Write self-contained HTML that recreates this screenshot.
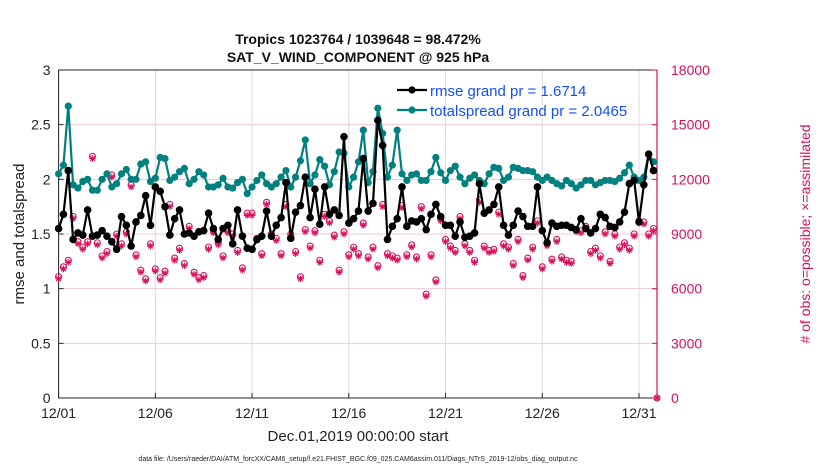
<!DOCTYPE html>
<html><head><meta charset="utf-8"><style>
body{margin:0;background:#fff}
svg{font-family:"Liberation Sans",sans-serif}
</style></head><body>
<svg id="c" width="830" height="470" viewBox="0 0 830 470"></svg>
<script>
const rmse=[1.55,1.68,2.08,1.45,1.51,1.49,1.72,1.48,1.49,1.53,1.48,1.43,1.36,1.66,1.58,1.39,1.61,1.67,1.85,1.58,1.93,1.89,1.75,1.49,1.64,1.72,1.5,1.51,1.48,1.52,1.53,1.69,1.55,1.45,1.55,1.58,1.41,1.72,1.48,1.37,
1.36,1.45,1.48,1.71,1.48,1.58,1.65,1.97,1.46,1.70,1.76,2.02,1.65,1.91,1.59,1.93,1.68,1.72,1.67,2.39,1.60,1.64,1.71,2.19,1.71,1.78,2.54,2.31,1.45,1.57,1.64,1.93,1.57,1.62,1.61,1.64,1.54,1.68,1.77,1.66,1.58,1.58,
1.48,1.61,1.47,1.48,1.51,1.96,1.69,1.72,1.77,1.93,1.58,1.49,1.58,1.71,1.66,1.57,1.57,1.93,1.53,1.42,1.60,1.57,1.58,1.58,1.56,1.54,1.64,1.55,1.51,1.55,1.68,1.65,1.57,1.56,1.61,1.70,1.96,1.99,1.61,1.95,2.23,2.08];
const spread=[2.05,2.13,2.67,1.95,1.92,1.98,2.0,1.9,1.9,2.0,2.05,1.93,1.96,2.05,2.09,2.0,2.0,2.14,2.16,1.98,2.01,2.2,2.19,1.99,2.02,2.07,2.1,1.96,2.0,2.07,2.04,1.93,1.93,1.95,2.01,1.93,1.92,1.97,2.0,1.87,
1.93,1.99,2.04,1.96,1.93,1.96,2.02,2.08,1.93,2.02,2.17,2.36,1.96,2.04,2.18,2.12,1.95,2.07,2.25,2.24,1.93,2.02,2.16,2.45,1.97,2.07,2.65,2.42,2.02,2.13,2.45,2.05,1.99,2.04,2.05,1.99,1.99,2.07,2.2,2.06,1.99,2.08,
2.12,2.02,1.96,2.01,2.04,1.99,1.96,2.05,2.11,2.1,1.99,2.02,2.11,2.1,2.08,2.08,2.07,2.02,1.99,2.02,1.99,1.96,1.94,1.99,1.96,1.92,1.95,1.99,1.99,1.95,1.97,1.99,1.99,1.98,2.01,2.06,2.13,2.02,1.99,2.02,2.23,2.16];
const obsLeft=[1.09,1.18,1.24,1.64,1.41,1.36,1.41,2.19,1.40,1.28,1.32,2.02,1.48,1.39,1.5,1.93,1.29,1.15,1.07,1.39,1.16,1.08,1.14,1.75,1.26,1.35,1.21,1.55,1.13,1.08,1.10,1.36,1.51,1.40,1.28,1.51,1.48,1.33,1.17,1.67,
1.67,1.44,1.30,1.77,1.48,1.44,1.30,1.75,1.48,1.32,1.09,1.52,1.37,1.51,1.24,1.66,1.60,1.47,1.15,1.50,1.29,1.36,1.30,1.58,1.27,1.36,1.19,1.75,1.30,1.28,1.26,1.74,1.29,1.38,1.27,1.73,0.93,1.29,1.06,1.62,1.43,1.37,
1.33,1.64,1.39,1.33,1.24,1.79,1.37,1.33,1.34,1.68,1.39,1.36,1.21,1.43,1.10,1.26,1.36,1.60,1.18,1.39,1.25,1.43,1.27,1.24,1.23,1.52,1.51,1.55,1.32,1.35,1.28,1.50,1.23,1.48,1.36,1.40,1.35,1.48,1.60,1.59,1.48,1.53];
const xTicks=[0,5,10,15,20,25,30];
const xTickLabels=["12/01","12/06","12/11","12/16","12/21","12/26","12/31"];
const yTicks=[0,0.5,1,1.5,2,2.5,3];
const yRTicks=[0,3000,6000,9000,12000,15000,18000];
const possible=obsLeft.map(v=>Math.round(v*6000+120));
const assimilated=obsLeft.map(v=>Math.round(v*6000));
possible.push(0);assimilated.push(0);

const L=58.6,R=657,T=70,B=398,DAYS=30.93;
const xs=d=>L+d/DAYS*(R-L);
const ys=v=>B-v/3*(B-T);
const yr=v=>B-v/18000*(B-T);
const svg=document.getElementById('c');
const NS='http://www.w3.org/2000/svg';
function mk(tag,a,parent){const e=document.createElementNS(NS,tag);for(const k in a)e.setAttribute(k,a[k]);(parent||svg).appendChild(e);return e;}
const PINK='#d6105c',TEAL='#00807f';
xTicks.forEach(t=>{const g=mk('line',{x1:xs(t),x2:xs(t),y1:T,y2:B,stroke:'#dcdcdc','stroke-width':1});
});
yTicks.forEach(t=>{const g=mk('line',{x1:L,x2:R,y1:ys(t),y2:ys(t),stroke:'#f4c8d8','stroke-width':1});
});
let a=mk('rect',{x:L,y:T,width:R-L,height:B-T,fill:'none',stroke:'#262626','stroke-width':1});

a=mk('line',{x1:R,x2:R,y1:T,y2:B,stroke:PINK,'stroke-width':1.2});

xTicks.forEach((t,i)=>{mk('line',{x1:xs(t),x2:xs(t),y1:B,y2:B-5,stroke:'#262626'});
const tx=mk('text',{x:xs(t),y:B+20,'font-size':14,'text-anchor':'middle',fill:'#222'});tx.textContent=xTickLabels[i];
});
yTicks.forEach(t=>{mk('line',{x1:L,x2:L+5,y1:ys(t),y2:ys(t),stroke:'#262626'});
const tx=mk('text',{x:L-8,y:ys(t)+5,'font-size':14,'text-anchor':'end',fill:'#222'});tx.textContent=String(t);
});
yRTicks.forEach(t=>{mk('line',{x1:R,x2:R-5,y1:yr(t),y2:yr(t),stroke:PINK});
const tx=mk('text',{x:R+14,y:yr(t)+5,'font-size':14,fill:PINK});tx.textContent=String(t);
});
const og=mk('g',{});
function star(x,y,r,p){for(let k=0;k<4;k++){const an=k*Math.PI/4;mk('line',{x1:x-r*Math.cos(an),y1:y-r*Math.sin(an),x2:x+r*Math.cos(an),y2:y+r*Math.sin(an),stroke:PINK,'stroke-width':1.1},p);}}
possible.forEach((v,i)=>{const x=i<obsLeft.length?xs(i*0.25):R;
const c=mk('circle',{cx:x,cy:yr(v),r:3,fill:'none',stroke:PINK,'stroke-width':1.1},og);

star(x,yr(assimilated[i]),3.3,og);});
function series(vals,color,name,mr){const g=mk('g',{});
mk('polyline',{points:vals.map((v,i)=>xs(i*0.25)+','+ys(v)).join(' '),fill:'none',stroke:color,'stroke-width':2.2},g);
vals.forEach((v,i)=>{const c=mk('circle',{cx:xs(i*0.25),cy:ys(v),r:mr,fill:color},g);
});}
series(spread,TEAL,'totalspread-series',3.6);
series(rmse,'#000','rmse-series',3.8);
const lg=mk('g',{});
[['rmse grand pr = 1.6714','#000',90],['totalspread grand pr = 2.0465',TEAL,110]].forEach(([t,c,y])=>{
mk('line',{x1:397,x2:427,y1:y,y2:y,stroke:c,'stroke-width':2.2},lg);mk('circle',{cx:412,cy:y,r:3.6,fill:c},lg);
const tx=mk('text',{x:430,y:y+6,'font-size':15,fill:'#1450f0'},lg);tx.textContent=t;
});
function txt(s,at,name){const tx=mk('text',at);tx.textContent=s;}
txt('Tropics 1023764 / 1039648 = 98.472%',{x:358,y:44,'font-size':14,'font-weight':'bold','text-anchor':'middle',fill:'#111'},'title-line-1');
txt('SAT_V_WIND_COMPONENT @ 925 hPa',{x:358,y:62,'font-size':14,'font-weight':'bold','text-anchor':'middle',fill:'#111'},'title-line-2');
txt('Dec.01,2019 00:00:00 start',{x:358,y:441,'font-size':15,'text-anchor':'middle',fill:'#222'},'x-axis-title');
txt('rmse and totalspread',{x:0,y:0,'font-size':15,'text-anchor':'middle',fill:'#222',transform:'translate(24,234) rotate(-90)'},'y-axis-title');
txt('# of obs: o=possible; \u00d7=assimilated',{x:0,y:0,'font-size':14,'text-anchor':'middle',fill:PINK,transform:'translate(810,234) rotate(-90)'},'y-right-axis-title');
txt('data file: /Users/raeder/DAI/ATM_forcXX/CAM6_setup/f.e21.FHIST_BGC.f09_025.CAM6assim.011/Diags_NTrS_2019-12/obs_diag_output.nc',{x:358,y:461,'font-size':7,'text-anchor':'middle',fill:'#222'},'data-file-note');
</script>
</body></html>
